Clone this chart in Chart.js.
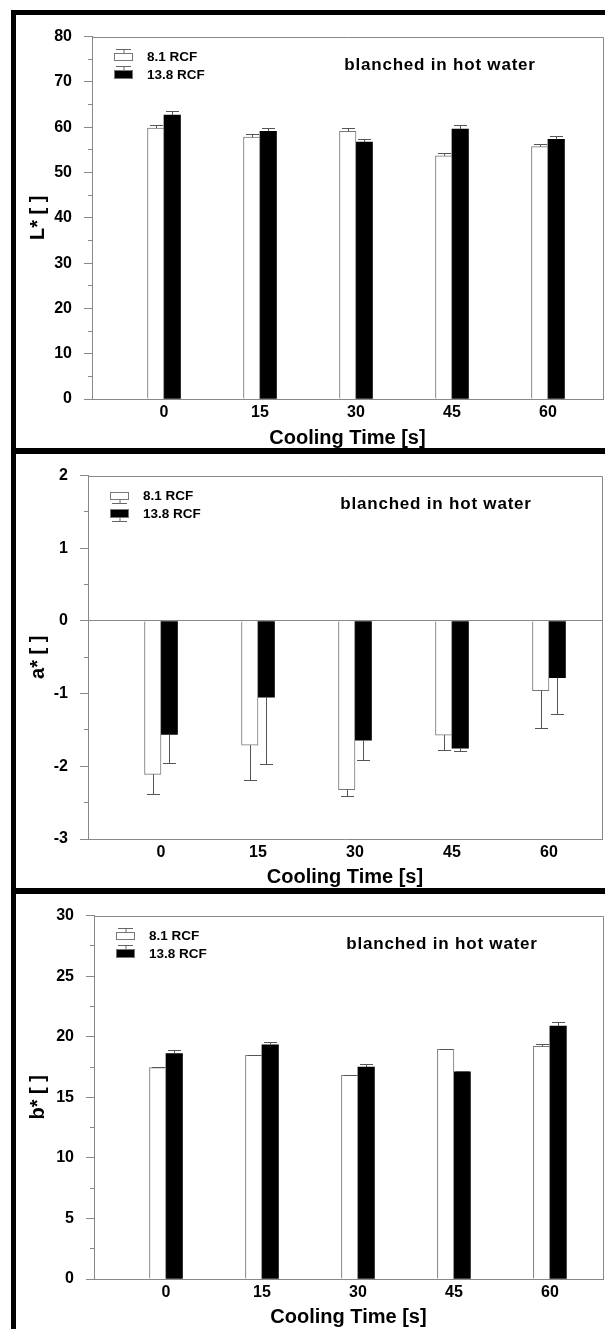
<!DOCTYPE html>
<html>
<head>
<meta charset="utf-8">
<script src="https://cdn.jsdelivr.net/npm/chart.js@4.4.1/dist/chart.umd.min.js"></script>
<style>
  html, body { margin: 0; padding: 0; background: #fff; }
  #page { position: relative; width: 605px; height: 1329px; overflow: hidden; background: #fff; }
  .rule { position: absolute; background: #000; }
  .panel { position: absolute; left: 16px; width: 589px; }
</style>
</head>
<body>
<div id="page">
  <div class="rule" style="left:11px;top:10px;width:594px;height:5px"></div>
  <div class="rule" style="left:11px;top:10px;width:5px;height:1319px"></div>
  <div class="rule" style="left:11px;top:448px;width:594px;height:6px"></div>
  <div class="rule" style="left:11px;top:888px;width:594px;height:6px"></div>
  <div class="panel" style="top:15px;height:433px"><canvas id="chartL"></canvas></div>
  <div class="panel" style="top:454px;height:434px"><canvas id="chartA"></canvas></div>
  <div class="panel" style="top:894px;height:435px"><canvas id="chartB"></canvas></div>
</div>
<script>
const coolingTimes = [0, 15, 30, 45, 60];
const seriesNames = ["8.1 RCF", "13.8 RCF"];
const noteText = "blanched in hot water";
const xTitle = "Cooling Time [s]";

// L* panel
const lightLow = [59.8, 57.8, 59.1, 53.7, 55.7];
const lightLowErr = [0.7, 0.7, 0.7, 0.6, 0.6];
const lightHigh = [62.7, 59.1, 56.7, 59.6, 57.3];
const lightHighErr = [0.9, 0.7, 0.6, 0.9, 0.7];

// a* panel
const redLow = [-2.11, -1.71, -2.32, -1.57, -0.96];
const redLowErr = [0.27, 0.48, 0.09, 0.2, 0.51];
const redHigh = [-1.56, -1.05, -1.64, -1.75, -0.78];
const redHighErr = [0.4, 0.92, 0.27, 0.04, 0.5];

// b* panel
const yellowLow = [17.45, 18.47, 16.82, 18.96, 19.2];
const yellowLowErr = [0.05, 0.05, 0.05, 0.05, 0.22];
const yellowHigh = [18.61, 19.34, 17.5, 17.1, 20.88];
const yellowHighErr = [0.27, 0.24, 0.22, 0.05, 0.32];

const FONT = '"Liberation Sans", Arial, sans-serif';
Chart.defaults.font.family = FONT;
Chart.defaults.color = "#000";

const decor = {
  id: "decor",
  afterDatasetsDraw(chart) {
    const { ctx } = chart;
    const y = chart.scales.y;
    ctx.save();
    ctx.strokeStyle = "#555";
    ctx.lineWidth = 1;
    chart.data.datasets.forEach((ds, di) => {
      chart.getDatasetMeta(di).data.forEach((bar, i) => {
        const v = ds.data[i].y, e = ds.errors[i];
        if (!e) return;
        const end = Math.round(y.getPixelForValue(v + (v < 0 ? -e : e))) + 0.5;
        const x = Math.round(bar.x) + 0.5;
        ctx.beginPath();
        ctx.moveTo(x, bar.y);
        ctx.lineTo(x, end);
        ctx.moveTo(x - 6.5, end);
        ctx.lineTo(x + 6.5, end);
        ctx.stroke();
      });
    });
    ctx.restore();
  },
  afterDraw(chart, args, opts) {
    const { ctx, chartArea: a } = chart;
    ctx.save();
    // plot frame (top and right)
    ctx.strokeStyle = "#888";
    ctx.lineWidth = 1;
    ctx.beginPath();
    ctx.moveTo(Math.round(a.left), Math.round(a.top) + 0.5);
    ctx.lineTo(Math.round(a.right) + 0.5, Math.round(a.top) + 0.5);
    ctx.lineTo(Math.round(a.right) + 0.5, Math.round(a.bottom));
    ctx.stroke();

    // legend
    const bx = Math.round(a.left) + 22, bw = 19;
    const rows = [
      { top: Math.round(a.top) + 16, h: 8, fill: "#fff" },
      { top: Math.round(a.top) + 33, h: 9, fill: "#000" }
    ];
    ctx.font = "bold 13.5px " + FONT;
    ctx.textAlign = "left";
    ctx.textBaseline = "middle";
    rows.forEach((r, i) => {
      ctx.fillStyle = r.fill;
      ctx.fillRect(bx, r.top, bw, r.h);
      ctx.strokeStyle = "#777";
      ctx.strokeRect(bx + 0.5, r.top + 0.5, bw - 1, r.h - 1);
      const cx = bx + bw / 2 + 0.5;
      const y0 = opts.down ? r.top + r.h : r.top;
      const y1 = opts.down ? y0 + 3.5 : y0 - 3.5;
      ctx.strokeStyle = "#666";
      ctx.beginPath();
      ctx.moveTo(cx, y0);
      ctx.lineTo(cx, y1);
      ctx.moveTo(bx + 2, y1);
      ctx.lineTo(bx + bw - 2, y1);
      ctx.stroke();
      ctx.fillStyle = "#000";
      ctx.fillText(seriesNames[i], bx + 33, r.top + r.h / 2 + 0.5);
    });

    // note
    ctx.font = "bold 17px " + FONT;
    ctx.letterSpacing = "0.8px";
    ctx.textAlign = "center";
    ctx.fillText(noteText, a.left + 348, a.top + 29);
    ctx.restore();
  }
};

function isMajor(v, step) {
  const r = v / step;
  return Math.abs(r - Math.round(r)) < 1e-6;
}

function makeChart(id, cfg) {
  const toPts = vals => coolingTimes.map((t, i) => ({ x: t, y: vals[i] }));
  return new Chart(document.getElementById(id), {
    type: "bar",
    data: {
      datasets: [
        {
          label: seriesNames[0],
          data: toPts(cfg.low),
          errors: cfg.lowErr,
          backgroundColor: "#fff",
          borderColor: "#777",
          borderWidth: 1,
          barThickness: 16.5
        },
        {
          label: seriesNames[1],
          data: toPts(cfg.high),
          errors: cfg.highErr,
          backgroundColor: "#000",
          borderWidth: 0,
          barThickness: 16.5
        }
      ]
    },
    options: {
      responsive: true,
      maintainAspectRatio: false,
      animation: false,
      layout: { padding: { top: cfg.top, right: cfg.right, left: 0, bottom: 0 } },
      plugins: {
        legend: { display: false },
        tooltip: { enabled: false },
        decor: { down: cfg.down }
      },
      scales: {
        x: {
          type: "linear",
          offset: false,
          min: cfg.xMin,
          max: cfg.xMax,
          afterBuildTicks: s => { s.ticks = coolingTimes.map(v => ({ value: v })); },
          afterFit: s => { s.height = cfg.xHeight; },
          grid: { display: false, drawTicks: false },
          border: { display: true, color: "#888", width: 1 },
          ticks: { padding: 4, font: { size: 16, weight: "bold" }, maxRotation: 0, autoSkip: false },
          title: {
            display: true,
            text: xTitle,
            font: { size: 20, weight: "bold", lineHeight: 1 },
            padding: { top: 0, bottom: cfg.titlePad }
          }
        },
        y: {
          min: cfg.yMin,
          max: cfg.yMax,
          afterFit: s => { s.width = cfg.left; },
          ticks: {
            stepSize: cfg.yStep / 2,
            padding: 12,
            autoSkip: false,
            font: { size: 16, weight: "bold" },
            callback: v => isMajor(v, cfg.yStep) ? String(v) : ""
          },
          grid: {
            drawTicks: true,
            tickLength: 8,
            tickColor: "#888",
            color: c => (cfg.zero && c.tick && c.tick.value === 0) ? "#888" : "rgba(0,0,0,0)",
            tickBorderDash: c => (c.tick && !isMajor(c.tick.value, cfg.yStep)) ? [0, 4, 4, 100] : []
          },
          border: { display: true, color: "#888", width: 1 },
          title: {
            display: true,
            text: cfg.yLabel,
            font: { size: 20, weight: "bold", lineHeight: 1 },
            padding: { top: 12, bottom: 0 }
          }
        }
      }
    },
    plugins: [decor]
  });
}

makeChart("chartL", {
  yLabel: "L* [ ]", yMin: 0, yMax: 80, yStep: 10,
  low: lightLow, lowErr: lightLowErr, high: lightHigh, highErr: lightHighErr,
  top: 16, right: 2, left: 76, xHeight: 49, titlePad: 0,
  xMin: -11.25, xMax: 68.6, zero: false, down: false
});

makeChart("chartA", {
  yLabel: "a* [ ]", yMin: -3, yMax: 2, yStep: 1,
  low: redLow, lowErr: redLowErr, high: redHigh, highErr: redHighErr,
  top: 17, right: 3, left: 72, xHeight: 49, titlePad: 1,
  xMin: -11.29, xMax: 68.2, zero: true, down: true
});

makeChart("chartB", {
  yLabel: "b* [ ]", yMin: 0, yMax: 30, yStep: 5,
  low: yellowLow, lowErr: yellowLowErr, high: yellowHigh, highErr: yellowHighErr,
  top: 15, right: 2, left: 78, xHeight: 50, titlePad: 2,
  xMin: -11.25, xMax: 68.3, zero: false, down: false
});
</script>
</body>
</html>
